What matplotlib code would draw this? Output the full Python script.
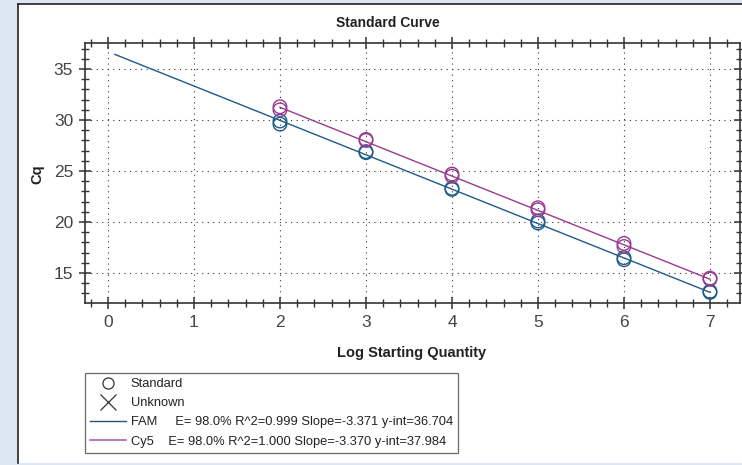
import matplotlib
matplotlib.use("Agg")
import matplotlib.pyplot as plt
from matplotlib.lines import Line2D
from matplotlib.patches import Rectangle
from matplotlib.ticker import MultipleLocator

# replicate standards
log_qty = [2, 2, 3, 3, 4, 4, 5, 5, 6, 6, 7, 7]
fam_cq = [29.6, 29.9, 26.8, 26.9, 23.2, 23.3, 19.9, 20.1, 16.3, 16.5, 13.1, 13.2]
cy5_cq = [31.0, 31.3, 28.0, 28.1, 24.5, 24.7, 21.2, 21.4, 17.6, 17.9, 14.4, 14.5]

# fit results shown in the legend
fam_slope, fam_int = -3.371, 36.704
cy5_slope, cy5_int = -3.370, 37.984
fam_span = [0.08, 7]
cy5_span = [2, 7]

fam_label = "FAM     E= 98.0% R^2=0.999 Slope=-3.371 y-int=36.704"
cy5_label = "Cy5    E= 98.0% R^2=1.000 Slope=-3.370 y-int=37.984"

fam_col = "#1d5b88"
cy5_col = "#993a8f"
fam_leg = "#2f4f7f"
cy5_leg = "#a866a2"

plt.rcParams['font.family'] = ['Liberation Sans', 'DejaVu Sans']
narrow = ['Liberation Sans Narrow', 'Liberation Sans', 'DejaVu Sans']

W, H = 742, 465
fig = plt.figure(figsize=(W / 100, H / 100), dpi=100)
fig.patch.set_facecolor("#dce7f3")

# white panel with left/top border
fig.patches.append(Rectangle((18 / W, 2 / H), 1.0, 1 - 6.5 / H, transform=fig.transFigure,
                             facecolor="white", edgecolor="none", zorder=-5))
fig.add_artist(Line2D([18 / W, 18 / W], [2 / H, 1 - 4.5 / H], transform=fig.transFigure,
                      color="#222222", lw=1.2, zorder=-4))
fig.add_artist(Line2D([18 / W, 1.0], [1 - 4.5 / H, 1 - 4.5 / H], transform=fig.transFigure,
                      color="#222222", lw=1.2, zorder=-4))

ax = fig.add_axes([85 / W, 1 - 303 / H, 655 / W, 260.3 / H])
ax.set_facecolor("white")

fam_fit = [fam_int + fam_slope * v for v in fam_span]
cy5_fit = [cy5_int + cy5_slope * v for v in cy5_span]
ax.plot(fam_span, fam_fit, color=fam_col, lw=1.0, zorder=3)
ax.plot(cy5_span, cy5_fit, color=cy5_col, lw=1.0, zorder=3)

ax.scatter(log_qty, fam_cq, s=95, facecolors="none", edgecolors=fam_col, linewidths=1.0, zorder=4)
ax.scatter(log_qty, cy5_cq, s=95, facecolors="none", edgecolors=cy5_col, linewidths=1.0, zorder=4)

ax.set_xlim(-0.267, 7.349)
ax.set_ylim(12.06, 37.58)
ax.xaxis.set_major_locator(MultipleLocator(1))
ax.xaxis.set_minor_locator(MultipleLocator(0.2))
ax.yaxis.set_major_locator(MultipleLocator(5))
ax.yaxis.set_minor_locator(MultipleLocator(1))
ax.grid(True, which="major", color="#333333", linestyle=(0, (1, 4)), lw=0.8)

ax.tick_params(which="both", direction="inout", top=True, right=True, colors="#333333",
               labelcolor="#444444")
ax.tick_params(which="major", length=9, width=1.1, labelsize=12.5, pad=4)
ax.tick_params(which="minor", length=6, width=1.0)
for lab in ax.get_xticklabels() + ax.get_yticklabels():
    lab.set_family(narrow)
for sp in ax.spines.values():
    sp.set_color("#333333")
    sp.set_linewidth(1.2)

fig.text(388 / W, 1 - 23 / H, "Standard Curve", ha="center", va="center",
         fontsize=10, fontweight="bold", color="#222222")
fig.text(412 / W, 1 - 353 / H, "Log Starting Quantity", ha="center", va="center",
         fontsize=10.5, fontweight="bold", color="#222222")
fig.text(37 / W, 1 - 174 / H, "Cq", ha="center", va="center", rotation=90,
         fontsize=10.5, fontweight="bold", color="#222222")

handles = [
    Line2D([], [], ls="none", marker="o", mfc="none", mec="#333333", ms=8, mew=0.9),
    Line2D([], [], ls="none", marker="x", color="#333333", ms=11, mew=0.9),
    Line2D([], [], color=fam_leg, lw=1.0),
    Line2D([], [], color=cy5_leg, lw=1.2),
]
labels = ["Standard", "Unknown", fam_label, cy5_label]
leg = fig.legend(handles, labels, loc="upper left", bbox_to_anchor=(85 / W, 1 - 373 / H),
                 fontsize=9.3, frameon=True, fancybox=False, handlelength=2.8,
                 handletextpad=0.35, borderpad=0.4, borderaxespad=0, labelspacing=0.55)
leg.get_frame().set_edgecolor("#444444")
leg.get_frame().set_linewidth(0.9)
for t in leg.get_texts():
    t.set_color("#222222")

fig.savefig("out.png", dpi=100, facecolor=fig.get_facecolor())
